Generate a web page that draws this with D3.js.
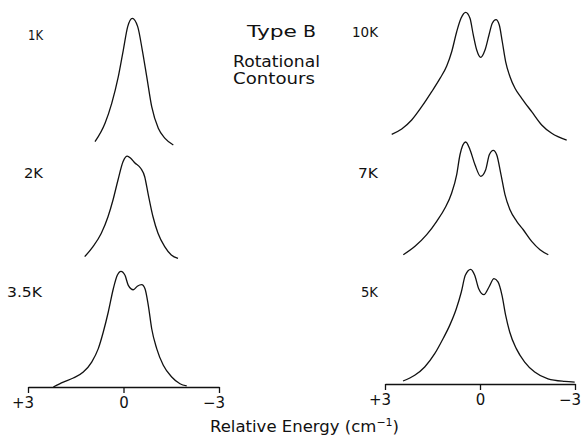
<!DOCTYPE html>
<html><head><meta charset="utf-8">
<script src="https://cdn.jsdelivr.net/npm/d3@7"></script>
<style>
body{margin:0;background:#fff}
svg{display:block}
text{font-family:"DejaVu Sans",sans-serif;fill:#111}
</style>
</head><body>
<svg id="chart" width="581" height="437"></svg>
<script>
// Rotational contour data: [relative energy (cm^-1), relative intensity]
const spectrum1K = [[0.895,0.033],[0.58,0.175],[0.37,0.328],[0.163,0.533],[0.006,0.738],[-0.132,0.918],[-0.276,0.982],[-0.446,0.918],[-0.59,0.738],[-0.73,0.533],[-0.886,0.302],[-1.093,0.136],[-1.304,0.059],[-1.565,0.008]];
const spectrum2K = [[1.219,0.041],[0.958,0.118],[0.697,0.221],[0.487,0.348],[0.33,0.477],[0.173,0.631],[0.016,0.772],[-0.119,0.815],[-0.226,0.798],[-0.352,0.764],[-0.54,0.721],[-0.666,0.656],[-0.77,0.528],[-0.927,0.348],[-1.084,0.221],[-1.294,0.118],[-1.502,0.054],[-1.712,0.028]];
const spectrum35K = [[2.205,0.0],[1.891,0.038],[1.577,0.069],[1.263,0.115],[0.999,0.192],[0.792,0.295],[0.635,0.423],[0.478,0.577],[0.32,0.756],[0.195,0.859],[0.079,0.89],[-0.047,0.859],[-0.151,0.782],[-0.308,0.748],[-0.434,0.775],[-0.572,0.787],[-0.675,0.756],[-0.779,0.628],[-0.886,0.448],[-1.043,0.295],[-1.25,0.167],[-1.514,0.077],[-1.775,0.025],[-1.986,0.008]];
const spectrum10K = [[2.788,0.09],[2.472,0.131],[2.157,0.2],[1.841,0.302],[1.525,0.418],[1.263,0.52],[1.051,0.615],[0.894,0.725],[0.736,0.879],[0.6,0.982],[0.452,1.028],[0.316,0.982],[0.212,0.854],[0.104,0.738],[-0.022,0.682],[-0.158,0.738],[-0.284,0.854],[-0.388,0.944],[-0.505,0.972],[-0.609,0.931],[-0.704,0.802],[-0.811,0.648],[-0.947,0.533],[-1.105,0.444],[-1.317,0.367],[-1.632,0.264],[-1.948,0.162],[-2.264,0.098],[-2.738,0.046]];
const spectrum7K = [[2.422,0.056],[2.052,0.121],[1.683,0.21],[1.367,0.313],[1.105,0.415],[0.894,0.531],[0.736,0.672],[0.632,0.825],[0.452,0.923],[0.316,0.864],[0.158,0.748],[-0.022,0.659],[-0.18,0.71],[-0.294,0.825],[-0.42,0.859],[-0.527,0.825],[-0.663,0.672],[-0.789,0.518],[-0.947,0.402],[-1.159,0.313],[-1.367,0.248],[-1.632,0.159],[-1.895,0.095],[-2.157,0.056]];
const spectrum5K = [[2.431,0.023],[2.062,0.067],[1.746,0.131],[1.43,0.233],[1.168,0.348],[0.957,0.451],[0.748,0.579],[0.59,0.708],[0.464,0.836],[0.294,0.882],[0.167,0.836],[0.041,0.733],[-0.126,0.687],[-0.284,0.746],[-0.442,0.81],[-0.568,0.785],[-0.695,0.682],[-0.811,0.528],[-0.938,0.4],[-1.146,0.272],[-1.411,0.169],[-1.727,0.092],[-2.147,0.04],[-2.674,0.02],[-2.99,0.015]];

const temperatureLabels = ["1K","2K","3.5K","10K","7K","5K"];
const tickValues = [3, 0, -3];
const tickLabels = ["+3", "0", "\u22123"];
const titleWords = ["Type", "B"];
const titleLines = ["Rotational", "Contours"];
const axisTitle = "Relative Energy (cm";
const axisTitleSup = "\u22121";

const svg = d3.select("#chart");
const columns = [[28, 219], [385, 575]];
const panels = [
  {data: spectrum1K, col: 0, base: 146, lx: 28, ly: 40, lw: 15, axis: false},
  {data: spectrum2K, col: 0, base: 262, lx: 24, ly: 178, lw: 19, axis: false},
  {data: spectrum35K, col: 0, base: 387, lx: 7, ly: 297, lw: 35, axis: true},
  {data: spectrum10K, col: 1, base: 146, lx: 352, ly: 37, lw: 26, axis: false},
  {data: spectrum7K, col: 1, base: 262, lx: 358, ly: 178, lw: 20, axis: false},
  {data: spectrum5K, col: 1, base: 384, lx: 361, ly: 297, lw: 17, axis: true}
];

panels.forEach((p, i) => {
  const x = d3.scaleLinear().domain([3, -3]).range(columns[p.col]);
  const y = d3.scaleLinear().domain([0, 1]).range([p.base, p.base - 130]);
  const line = d3.line().x(d => x(d[0])).y(d => y(d[1])).curve(d3.curveMonotoneX);
  svg.append("path").datum(p.data).attr("d", line)
    .attr("fill", "none").attr("stroke", "#111").attr("stroke-width", 1.3);
  svg.append("text").attr("x", p.lx).attr("y", p.ly)
    .attr("font-size", 13.5).attr("textLength", p.lw).attr("lengthAdjust", "spacingAndGlyphs")
    .text(temperatureLabels[i]);
  if (p.axis) {
    const g = svg.append("g").attr("transform", `translate(0,${p.base})`)
      .call(d3.axisBottom(x).tickValues(tickValues).tickFormat((d, k) => tickLabels[k]).tickSize(6).tickSizeOuter(0));
    g.select(".domain").attr("stroke", "#111").attr("stroke-width", 1.3);
    g.selectAll(".tick line").attr("stroke", "#111").attr("stroke-width", 1.3);
    g.selectAll(".tick text").attr("fill", "#111").attr("font-family", "DejaVu Sans, sans-serif")
      .attr("font-size", 15).attr("y", 10)
      .each(function(d) {
        if (d !== 0) d3.select(this).attr("text-anchor", "end").attr("x", 5.5);
      });
  }
});

svg.append("text").attr("x", 247).attr("y", 37).attr("font-size", 16.5)
  .attr("textLength", 50).attr("lengthAdjust", "spacingAndGlyphs").text(titleWords[0]);
svg.append("text").attr("x", 303).attr("y", 37).attr("font-size", 16.5)
  .attr("textLength", 13).attr("lengthAdjust", "spacingAndGlyphs").text(titleWords[1]);
svg.append("text").attr("x", 233).attr("y", 67).attr("font-size", 15)
  .attr("textLength", 87).attr("lengthAdjust", "spacingAndGlyphs").text(titleLines[0]);
svg.append("text").attr("x", 233).attr("y", 84).attr("font-size", 15)
  .attr("textLength", 82).attr("lengthAdjust", "spacingAndGlyphs").text(titleLines[1]);

const t = svg.append("text").attr("x", 210).attr("y", 432).attr("font-size", 16.5);
t.append("tspan").text(axisTitle);
t.append("tspan").attr("font-size", 11).attr("dy", -6).text(axisTitleSup);
t.append("tspan").attr("dy", 6).text(")");
</script>
</body></html>
